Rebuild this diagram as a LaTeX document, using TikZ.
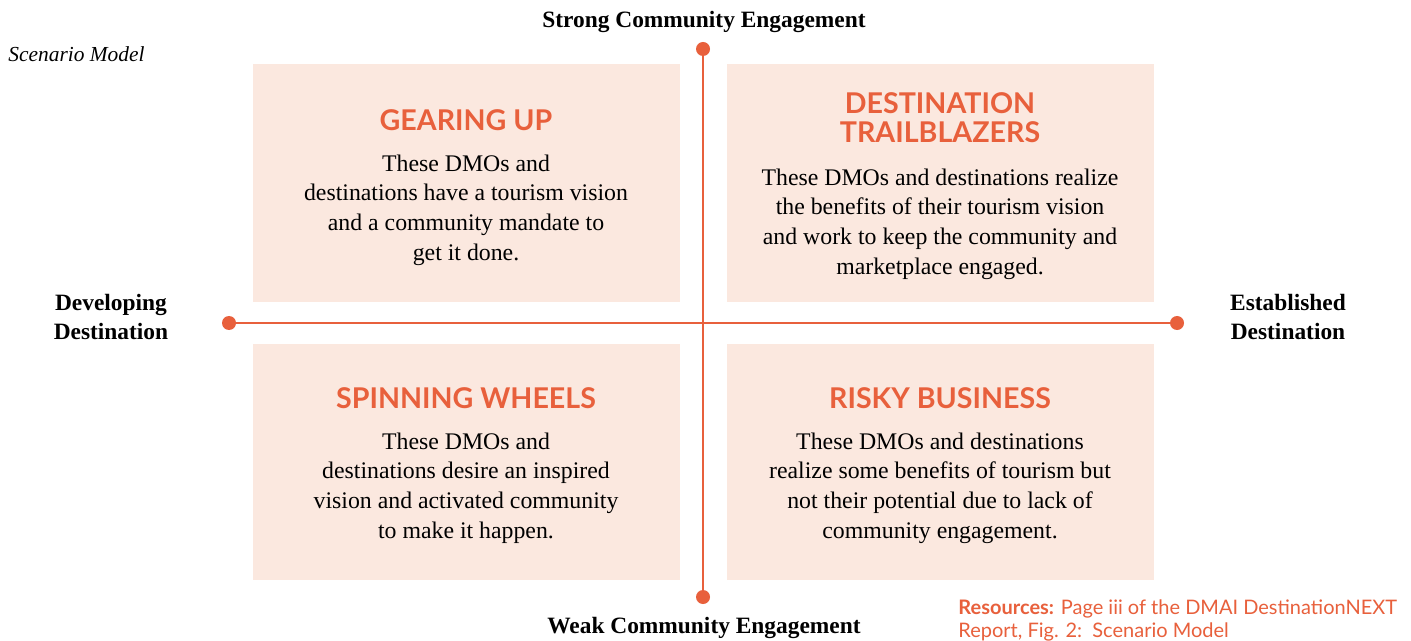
\documentclass[tikz,border=0pt]{standalone}
\usepackage{fontspec}
\setmainfont{Liberation Serif}
\newfontfamily\titlefont{Lato}
\definecolor{accent}{HTML}{E8603C}
\definecolor{boxfill}{HTML}{FBE8DF}
\begin{document}
\begin{tikzpicture}[x=0.5pt,y=-0.5pt,
  quad/.style={fill=boxfill,draw=none},
  qtitle/.style={text=accent,font=\titlefont\bfseries\fontsize{14.3}{14.6}\selectfont,align=center,inner sep=0pt},
  qbody/.style={font=\fontsize{11.9}{14.8}\selectfont,align=center,inner sep=0pt},
  axlabel/.style={font=\bfseries\fontsize{11.7}{14.5}\selectfont,align=center,inner sep=0pt},
  axis/.style={draw=accent,line width=1.3pt},
  dot/.style={circle,fill=accent,minimum size=7pt,inner sep=0pt}]
\useasboundingbox (0,0) rectangle (1411,641);
\fill[white] (0,0) rectangle (1411,641);
% quadrants
\fill[quad] (253,64) rectangle (680,302);
\fill[quad] (727,64) rectangle (1154,302);
\fill[quad] (253,344) rectangle (680,580);
\fill[quad] (727,344) rectangle (1154,580);
% axes
\node[dot] (top) at (703,49) {};
\node[dot] (bot) at (703,597) {};
\node[dot] (lft) at (229,323) {};
\node[dot] (rgt) at (1177,323) {};
\draw[axis] (top.center) -- (bot.center);
\draw[axis] (lft.center) -- (rgt.center);
% axis labels
\node[axlabel] (strong) at (704,22) {Strong Community Engagement};
\node[axlabel] (weak) at (704,628) {Weak Community Engagement};
\node[axlabel] (dev) at (111,317) {Developing\\Destination};
\node[axlabel] (est) at (1288,317) {Established\\Destination};
\node[anchor=west,inner sep=0pt,font=\itshape\fontsize{10.7}{13}\selectfont] (sm) at (8,54) {Scenario Model};
% titles
\node[qtitle] (t1) at (466,120) {GEARING UP};
\node[qtitle] (t2) at (940,118) {DESTINATION\\TRAILBLAZERS};
\node[qtitle] (t3) at (466,398) {SPINNING WHEELS};
\node[qtitle] (t4) at (940,398) {RISKY BUSINESS};
% bodies
\node[qbody] (b1) at (466,210) {These DMOs and\\destinations have a tourism vision\\and a community mandate to\\get it done.};
\node[qbody] (b2) at (940,224) {These DMOs and destinations realize\\the benefits of their tourism vision\\and work to keep the community and\\marketplace engaged.};
\node[qbody] (b3) at (466,488) {These DMOs and\\destinations desire an inspired\\vision and activated community\\to make it happen.};
\node[qbody] (b4) at (940,488) {These DMOs and destinations\\realize some benefits of tourism but\\not their potential due to lack of\\community engagement.};
% resources
\node[anchor=north west,inner sep=0pt,align=left,text=accent,font=\titlefont\fontsize{10}{11.5}\selectfont] (res) at (958,599) {{\bfseries Resources:} Page iii of the DMAI DestinationNEXT\\Report, Fig. 2:\ \ Scenario Model};
\end{tikzpicture}
\end{document}
